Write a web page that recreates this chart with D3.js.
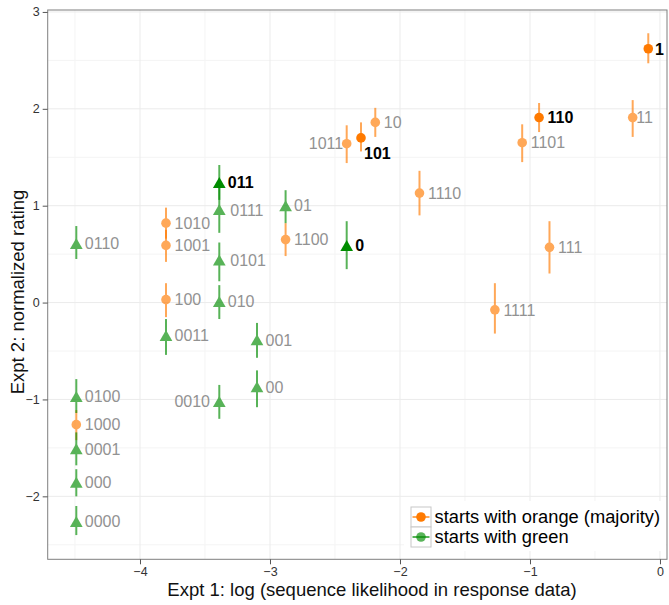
<!DOCTYPE html>
<html><head><meta charset="utf-8">
<script src="https://cdn.jsdelivr.net/npm/d3@7"></script>
<style>
html,body{margin:0;padding:0;background:#fff;}
svg{display:block;font-family:"Liberation Sans",Arial,Helvetica,sans-serif;}
</style></head>
<body>
<svg id="chart" width="669" height="605"></svg>
<script>
// ---- data ----
const codes  = ["1","11","110","1101","111","1111","1110","10","101","1011","1100","1010","1001","100","1000",
                "0","01","011","0111","0110","0101","010","0011","001","00","0010","0100","0001","000","0000"];
const xVals  = [-0.09,-0.21,-0.93,-1.06,-0.85,-1.27,-1.85,-2.19,-2.30,-2.41,-2.88,-3.80,-3.80,-3.80,-4.49,
                -2.41,-2.88,-3.39,-3.39,-4.49,-3.39,-3.39,-3.80,-3.10,-3.10,-3.39,-4.49,-4.49,-4.49,-4.49];
const yVals  = [2.62,1.91,1.91,1.65,0.57,-0.075,1.13,1.86,1.70,1.64,0.65,0.82,0.59,0.03,-1.26,
                0.59,1.00,1.24,0.96,0.61,0.44,0.01,-0.34,-0.385,-0.87,-1.02,-0.97,-1.51,-1.855,-2.26];
const yLow   = [2.47,1.71,1.76,1.45,0.30,-0.32,0.90,1.71,1.56,1.44,0.48,0.66,0.42,-0.15,-1.42,
                0.345,0.82,1.06,0.72,0.45,0.22,-0.17,-0.54,-0.57,-1.08,-1.20,-1.14,-1.68,-2.00,-2.40];
const yHigh  = [2.78,2.09,2.06,1.84,0.84,0.20,1.36,2.01,1.86,1.83,0.82,0.98,0.75,0.20,-1.11,
                0.84,1.16,1.42,1.20,0.79,0.62,0.18,-0.17,-0.21,-0.70,-0.85,-0.79,-1.34,-1.72,-2.10];
const highlighted = ["1","110","101","0","011"];
const groups = ["starts with orange (majority)","starts with green"];
const xTicks = [-4,-3,-2,-1,0];
const yTicks = [-2,-1,0,1,2,3];
// label placement exceptions: [dx, dy, anchor]
const labelNudge = {"1011":[-3.5,0,"end"],"0010":[-9.3,0,"end"],"101":[3,15,"start"],
                    "11":[3.6,0,"start"],"0111":[11,1,"start"],"0101":[11,0,"start"],"1":[6.7,0,"start"]};

// ---- layout ----
const W=669,H=605;
const L=47.7,R=667,T=10,B=559.3;
const svg=d3.select("#chart");
const x=d3.scaleLinear().domain([-4.71,0.054]).range([L,R]);
const y=d3.scaleLinear().domain([-2.65,3.02]).range([B,T]);
const colOrange="#FF7A00", colGreen="#008C00";
const alpha=0.65;

const data=codes.map((c,i)=>({code:c,x:xVals[i],y:yVals[i],lo:yLow[i],hi:yHigh[i],
  grp:c[0]==="1"?0:1,bold:highlighted.includes(c)}));

// grid
const gGrid=svg.append("g");
const xMinor=d3.range(-4.5,0.01,1), yMinor=d3.range(-2.5,3.01,1);
gGrid.selectAll(".xm").data(xMinor).join("line").attr("x1",d=>x(d)).attr("x2",d=>x(d)).attr("y1",T).attr("y2",B).attr("stroke","#f4f4f4").attr("stroke-width",1);
gGrid.selectAll(".ym").data(yMinor).join("line").attr("x1",L).attr("x2",R).attr("y1",d=>y(d)).attr("y2",d=>y(d)).attr("stroke","#f4f4f4").attr("stroke-width",1);
gGrid.selectAll(".xM").data(xTicks).join("line").attr("x1",d=>x(d)).attr("x2",d=>x(d)).attr("y1",T).attr("y2",B).attr("stroke","#ebebeb").attr("stroke-width",1);
gGrid.selectAll(".yM").data(yTicks).join("line").attr("x1",L).attr("x2",R).attr("y1",d=>y(d)).attr("y2",d=>y(d)).attr("stroke","#ebebeb").attr("stroke-width",1);

// marks
const tri=d3.symbol().type(d3.symbolTriangle).size(70);
const triOff=1.83;
const gMarks=svg.append("g");
data.forEach(d=>{
  const col=d.grp===0?colOrange:colGreen;
  if(d.bold){
    gMarks.append("line").attr("x1",x(d.x)).attr("x2",x(d.x)).attr("y1",y(d.lo)).attr("y2",y(d.hi))
      .attr("stroke",col).attr("stroke-width",2).attr("opacity",alpha);
  }
});
data.forEach(d=>{
  const col=d.grp===0?colOrange:colGreen;
  const g=gMarks.append("g");
  if(!d.bold){
    g.attr("opacity",alpha);
    g.append("line").attr("x1",x(d.x)).attr("x2",x(d.x)).attr("y1",y(d.lo)).attr("y2",y(d.hi))
      .attr("stroke",col).attr("stroke-width",2);
  }
  if(d.grp===0){
    g.append("circle").attr("cx",x(d.x)).attr("cy",y(d.y)).attr("r",4.8).attr("fill",col);
  } else {
    g.append("path").attr("d",tri).attr("transform",`translate(${x(d.x)},${y(d.y)+triOff})`).attr("fill",col);
  }
});
// labels
const fs=16;
data.forEach(d=>{
  const n=labelNudge[d.code]||[8.5,0,"start"];
  svg.append("text").attr("x",x(d.x)+n[0]).attr("y",y(d.y)+n[1]+0.36*fs)
    .attr("text-anchor",n[2]).attr("font-size",fs)
    .attr("font-weight",d.bold?"bold":"normal")
    .attr("fill",d.bold?"#000":"#929292").text(d.code);
});

// panel border
svg.append("rect").attr("x",L).attr("y",T).attr("width",R-L).attr("height",B-T)
  .attr("fill","none").attr("stroke","#7f7f7f").attr("stroke-width",1);

// axes
const fmt=v=>v<0?"\u2212"+Math.abs(v):String(v);
const xAxis=svg.append("g").attr("transform",`translate(0,${B})`)
  .call(d3.axisBottom(x).tickValues(xTicks).tickFormat(fmt).tickSize(5).tickPadding(3));
const yAxis=svg.append("g").attr("transform",`translate(${L},0)`)
  .call(d3.axisLeft(y).tickValues(yTicks).tickFormat(fmt).tickSize(5).tickPadding(3));
[xAxis,yAxis].forEach(a=>{
  a.select(".domain").remove();
  a.selectAll(".tick line").attr("stroke","#555");
  a.selectAll(".tick text").attr("font-size",12.5).attr("fill","#333")
   .attr("font-family","'Liberation Sans',Arial,sans-serif");
});

// axis titles
svg.append("text").attr("x",372).attr("y",596).attr("text-anchor","middle")
  .attr("font-size",18.5).attr("fill","#111").text("Expt 1: log (sequence likelihood in response data)");
svg.append("text").attr("transform","translate(24,292) rotate(-90)").attr("text-anchor","middle")
  .attr("font-size",18.5).attr("fill","#111").text("Expt 2: normalized rating");

// legend
const lg=svg.append("g");
lg.append("rect").attr("x",404).attr("y",501).attr("width",262).attr("height",50).attr("fill","#fff");
groups.forEach((name,i)=>{
  const ky=507+i*20, kx=411;
  const col=i===0?colOrange:colGreen;
  lg.append("rect").attr("x",kx).attr("y",ky).attr("width",20).attr("height",20)
    .attr("fill","#fff").attr("stroke","#c8c8c8").attr("stroke-width",1);
  lg.append("line").attr("x1",kx+1.5).attr("x2",kx+18.5).attr("y1",ky+10).attr("y2",ky+10)
    .attr("stroke",col).attr("stroke-width",2).attr("opacity",alpha);
  lg.append("circle").attr("cx",kx+10).attr("cy",ky+10).attr("r",4.8).attr("fill",col)
    .attr("opacity",i===0?1:alpha);
  lg.append("text").attr("x",434.5).attr("y",ky+10+0.35*18.3).attr("font-size",18.3)
    .attr("fill","#000").text(name);
});
</script>
</body></html>
